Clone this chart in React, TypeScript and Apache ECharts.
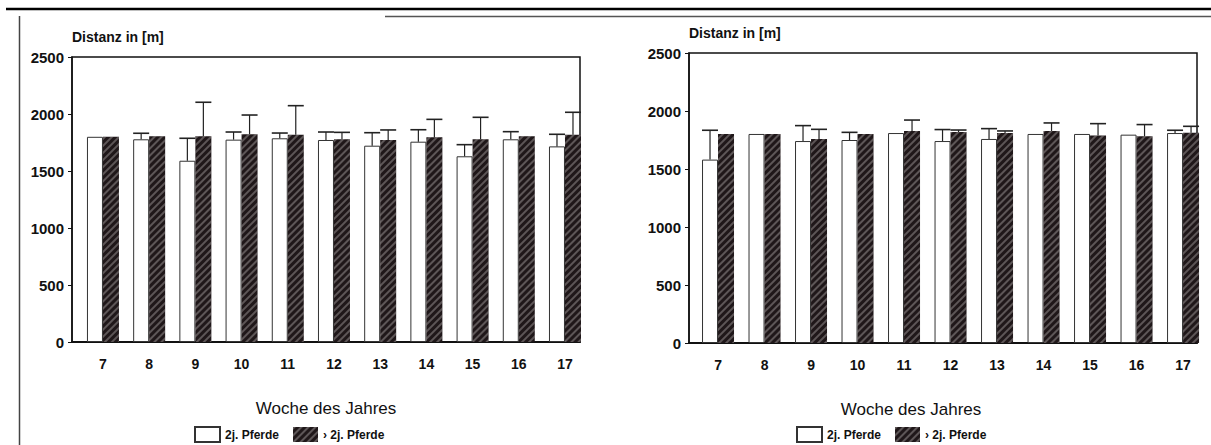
import React, { useEffect, useRef } from "react";
import * as echarts from "echarts";

const weeks = [7, 8, 9, 10, 11, 12, 13, 14, 15, 16, 17];
const yTicks = [0, 500, 1000, 1500, 2000, 2500];
const legendNames = ["2j. Pferde", "\u203a 2j. Pferde"];

// left panel
const leftYoung = [1800, 1778, 1590, 1775, 1787, 1772, 1722, 1757, 1629, 1778, 1716];
const leftYoungErr = [null, 1831, 1787, 1842, 1833, 1842, 1836, 1862, 1731, 1845, 1822];
const leftOld = [1800, 1805, 1805, 1822, 1818, 1778, 1772, 1796, 1778, 1805, 1818];
const leftOldErr = [null, null, 2103, 1991, 2073, 1839, 1860, 1953, 1971, null, 2015];

// right panel
const rightYoung = [1581, 1802, 1741, 1750, 1810, 1741, 1759, 1802, 1802, 1796, 1810];
const rightYoungErr = [1834, null, 1874, 1816, null, 1840, 1848, null, null, null, 1834];
const rightOld = [1802, 1802, 1759, 1802, 1828, 1819, 1810, 1828, 1788, 1782, 1813];
const rightOldErr = [null, null, 1842, null, 1922, 1836, 1828, 1897, 1891, 1883, 1868];

const FONT = "'Liberation Sans', Arial, Helvetica, sans-serif";
const BAR_W = 16;

const darkStyle = {
  color: "#1f1719",
  decal: {
    symbol: "rect",
    symbolSize: 1,
    color: "rgba(225,220,220,0.32)",
    dashArrayX: [1, 0],
    dashArrayY: [1.2, 2.4],
    rotation: -Math.PI / 4,
  },
};
const whiteStyle = { color: "#ffffff", borderColor: "#333", borderWidth: 1 };

function errData(vals: number[], errs: (number | null)[], side: number) {
  const out: number[][] = [];
  weeks.forEach((w, i) => {
    const e = errs[i];
    if (e != null) out.push([w, vals[i], e, side]);
  });
  return out;
}

function renderErr(params: any, api: any) {
  const x = api.value(0);
  const top = api.value(1);
  const err = api.value(2);
  const side = api.value(3);
  const p1 = api.coord([x, top]);
  const p2 = api.coord([x, err]);
  const cx = p1[0] + (side * BAR_W) / 2;
  return {
    type: "group",
    children: [
      { type: "line", shape: { x1: cx, y1: p1[1], x2: cx, y2: p2[1] }, style: { stroke: "#222", lineWidth: 1.2 } },
      { type: "line", shape: { x1: cx - BAR_W / 2, y1: p2[1], x2: cx + BAR_W / 2, y2: p2[1] }, style: { stroke: "#222", lineWidth: 1.6 } },
    ],
  };
}

function makeAxes(idx: number, min: number, max: number, titlePad: number[]) {
  const x = {
    type: "value",
    gridIndex: idx,
    min,
    max,
    axisLine: { show: true, lineStyle: { color: "#111", width: 2 } },
    axisTick: { show: false },
    splitLine: { show: false },
    axisLabel: {
      customValues: weeks,
      formatter: (v: number) => String(Math.round(v)),
      fontFamily: FONT,
      fontWeight: "bold",
      fontSize: 14,
      color: "#111",
      margin: 15,
    },
    name: "Woche des Jahres",
    nameLocation: "middle",
    nameGap: 58,
    nameTextStyle: { fontFamily: FONT, fontSize: 17, color: "#111", padding: titlePad },
  };
  const y = {
    type: "value",
    gridIndex: idx,
    min: 0,
    max: 2500,
    interval: 500,
    axisLine: { show: true, lineStyle: { color: "#111", width: 1.5 } },
    axisTick: { show: true, length: 4, lineStyle: { color: "#111" } },
    splitLine: { show: false },
    axisLabel: {
      customValues: yTicks,
      formatter: (v: number) => String(Math.round(v)),
      fontFamily: FONT,
      fontWeight: "bold",
      fontSize: 15,
      color: "#111",
      margin: 8,
    },
    name: "Distanz in [m]",
    nameLocation: "end",
    nameGap: 13,
    nameTextStyle: { fontFamily: FONT, fontWeight: "bold", fontSize: 14, color: "#111", align: "left" },
  };
  return { x, y };
}

function makeSeries(idx: number, young: number[], youngErr: (number | null)[], old: number[], oldErr: (number | null)[]) {
  return [
    {
      type: "bar",
      name: legendNames[0],
      xAxisIndex: idx,
      yAxisIndex: idx,
      barWidth: BAR_W,
      barGap: "0%",
      data: weeks.map((w, i) => [w, young[i]]),
      itemStyle: whiteStyle,
    },
    {
      type: "bar",
      name: legendNames[1],
      xAxisIndex: idx,
      yAxisIndex: idx,
      barWidth: BAR_W,
      barGap: "0%",
      data: weeks.map((w, i) => [w, old[i]]),
      itemStyle: darkStyle,
    },
    {
      type: "custom",
      xAxisIndex: idx,
      yAxisIndex: idx,
      z: 5,
      renderItem: renderErr,
      encode: { x: 0, y: [1, 2] },
      data: [...errData(young, youngErr, -1), ...errData(old, oldErr, 1)],
    },
  ];
}

export default function App() {
  const ref = useRef<HTMLDivElement>(null);
  useEffect(() => {
    document.body.style.margin = "0";
    const chart = echarts.init(ref.current!, null, { renderer: "svg" });
    const a0 = makeAxes(0, 6.33, 17.325, [0, 0, 0, 0]);
    const a1 = makeAxes(1, 6.376, 17.3, [0, 64, 0, 0]);
    const legendCommon = {
      icon: "rect",
      itemWidth: 25,
      itemHeight: 15,
      itemGap: 14,
      padding: 0,
      top: 426,
      orient: "horizontal",
      textStyle: { fontFamily: FONT, fontWeight: "bold", fontSize: 12, color: "#111" },
      data: legendNames,
      selectedMode: false,
    };
    chart.setOption({
      animation: false,
      backgroundColor: "#ffffff",
      grid: [
        { left: 72, top: 57, width: 508, height: 285, show: true, borderColor: "#111", borderWidth: 1.5 },
        { left: 689, top: 53, width: 508, height: 290, show: true, borderColor: "#111", borderWidth: 1.5 },
      ],
      xAxis: [a0.x, a1.x],
      yAxis: [a0.y, a1.y],
      legend: [
        { ...legendCommon, left: 194 },
        { ...legendCommon, left: 796 },
      ],
      series: [
        ...makeSeries(0, leftYoung, leftYoungErr, leftOld, leftOldErr),
        ...makeSeries(1, rightYoung, rightYoungErr, rightOld, rightOldErr),
      ],
      graphic: [
        { type: "line", shape: { x1: 6, y1: 9, x2: 1211, y2: 9 }, style: { stroke: "#000", lineWidth: 2.5 } },
        { type: "line", shape: { x1: 385, y1: 16.5, x2: 1211, y2: 16.5 }, style: { stroke: "#555", lineWidth: 1.5 } },
        { type: "line", shape: { x1: 19.5, y1: 16, x2: 19.5, y2: 445 }, style: { stroke: "#444", lineWidth: 1.5 } },
      ],
    });
    return () => chart.dispose();
  }, []);
  return (
    <div
      ref={ref}
      style={{ position: "absolute", left: 0, top: 0, width: 1211, height: 445, background: "#fff" }}
    />
  );
}
